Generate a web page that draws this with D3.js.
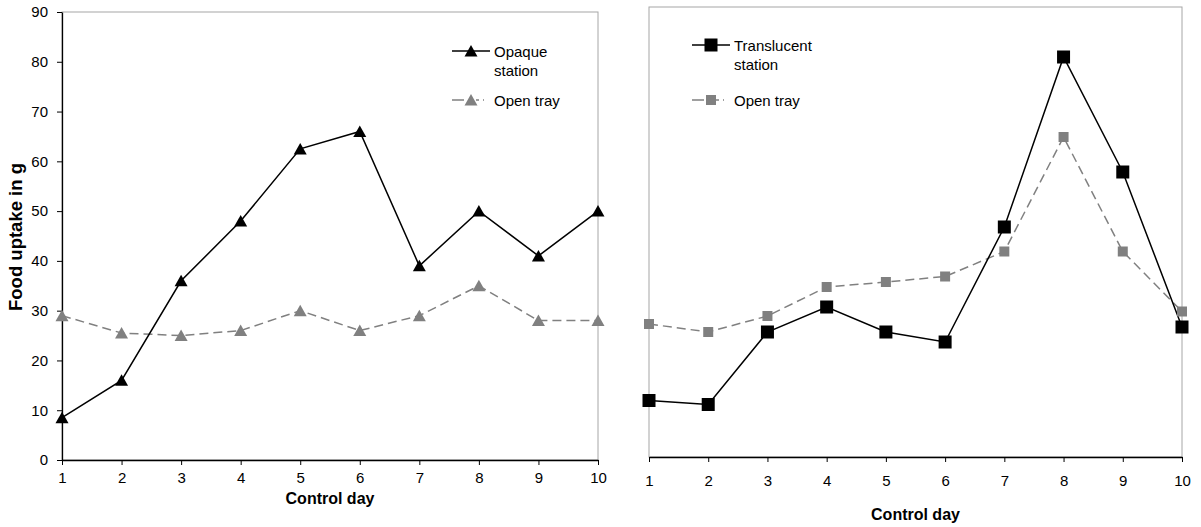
<!DOCTYPE html>
<html>
<head>
<meta charset="utf-8">
<script src="https://cdn.jsdelivr.net/npm/d3@7"></script>
<style>
  html, body { margin: 0; padding: 0; background: #fff; }
  svg { display: block; font-family: "Liberation Sans", Arial, sans-serif; }
</style>
</head>
<body>
<svg id="chart" width="1201" height="527"></svg>
<script>
// ---- data ----
const days = [1, 2, 3, 4, 5, 6, 7, 8, 9, 10];
const yTicks = [0, 10, 20, 30, 40, 50, 60, 70, 80, 90];
const opaqueStation = [8.5, 16, 36, 48, 62.5, 66, 39, 50, 41, 50];
const openTrayLeft = [29, 25.5, 25, 26, 30, 26, 29, 35, 28, 28];
const translucentStation = [11.3, 10.5, 25, 30, 25, 23, 46, 80, 57, 26];
const openTrayRight = [26.6, 25, 28.2, 34, 35, 36.1, 41.1, 64, 41.1, 29.1];
const leftLegend = ["Opaque", "station", "Open tray"];
const rightLegend = ["Translucent", "station", "Open tray"];
const xTitle = "Control day";
const yTitle = "Food uptake in g";

const svg = d3.select("#chart");
const GRAY_LINE = "#808080";
const GRAY_MARK = "#808080";
const BORDER = "#a6a6a6";
const FS = 15;

const triPath = "M0,-6L6.5,5.5L-6.5,5.5Z";

function panel(opts) {
  const x = d3.scaleLinear().domain([1, 10]).range(opts.xr);
  const y = d3.scaleLinear().domain([0, 90]).range(opts.yr);
  const g = svg.append("g");

  // border (top/right/left gray)
  g.append("rect")
    .attr("x", opts.xr[0]).attr("y", opts.yr[1])
    .attr("width", opts.xr[1] - opts.xr[0])
    .attr("height", opts.yr[0] - opts.yr[1])
    .attr("fill", "none").attr("stroke", BORDER).attr("stroke-width", 1);

  // x axis
  const xa = g.append("g")
    .attr("transform", `translate(0,${opts.yr[0]})`)
    .call(d3.axisBottom(x).tickValues(days).tickFormat(d3.format("d"))
      .tickSize(5).tickPadding(opts.xPad).tickSizeOuter(0));
  xa.select(".domain").attr("stroke", "#000").attr("stroke-width", 1.3);
  xa.selectAll(".tick line").attr("stroke", "#000").attr("stroke-width", 1);
  xa.selectAll("text").attr("font-size", FS).attr("fill", "#000")
    .attr("font-family", "Liberation Sans, Arial, sans-serif");

  if (opts.yAxis) {
    const ya = g.append("g")
      .attr("transform", `translate(${opts.xr[0]},0)`)
      .call(d3.axisLeft(y).tickValues(yTicks).tickSize(5).tickPadding(9).tickSizeOuter(0));
    ya.select(".domain").attr("stroke", "#000").attr("stroke-width", 1.3);
    ya.selectAll(".tick line").attr("stroke", "#000").attr("stroke-width", 1);
    ya.selectAll("text").attr("font-size", FS).attr("fill", "#000")
      .attr("font-family", "Liberation Sans, Arial, sans-serif");
  }

  // x title
  g.append("text")
    .attr("x", (opts.xr[0] + opts.xr[1]) / 2).attr("y", opts.xTitleY)
    .attr("text-anchor", "middle").attr("font-weight", "bold")
    .attr("font-size", 16).text(xTitle);

  const line = d3.line().x((d, i) => x(days[i])).y(d => y(d));

  // gray dashed series
  g.append("path").datum(opts.gray)
    .attr("d", line).attr("fill", "none")
    .attr("stroke", GRAY_LINE).attr("stroke-width", 1.5)
    .attr("stroke-dasharray", "9,5");
  // black series
  g.append("path").datum(opts.black)
    .attr("d", line).attr("fill", "none")
    .attr("stroke", "#000").attr("stroke-width", 1.5);

  function marker(sel, color, kind, size) {
    if (kind === "tri") {
      sel.append("path").attr("d", triPath).attr("fill", color);
    } else {
      sel.append("rect").attr("x", -size / 2).attr("y", -size / 2)
        .attr("width", size).attr("height", size).attr("fill", color);
    }
  }

  g.selectAll(".gm").data(opts.gray).enter().append("g")
    .attr("transform", (d, i) => `translate(${x(days[i])},${y(d)})`)
    .each(function () { marker(d3.select(this), GRAY_MARK, opts.kind, 10); });
  g.selectAll(".bm").data(opts.black).enter().append("g")
    .attr("transform", (d, i) => `translate(${x(days[i])},${y(d)})`)
    .each(function () { marker(d3.select(this), "#000", opts.kind, 13); });

  // legend
  const L = opts.legend;
  const lg = g.append("g");
  lg.append("line").attr("x1", L.x).attr("x2", L.x + 38)
    .attr("y1", L.y1).attr("y2", L.y1).attr("stroke", "#000").attr("stroke-width", 1.5);
  const m1 = lg.append("g").attr("transform", `translate(${L.x + 19},${L.y1})`);
  marker(m1, "#000", opts.kind, 13);
  lg.append("text").attr("x", L.x + 42).attr("y", L.y1 + 5.5)
    .attr("font-size", FS).text(opts.labels[0]);
  lg.append("text").attr("x", L.x + 42).attr("y", L.y1 + 25)
    .attr("font-size", FS).text(opts.labels[1]);
  lg.append("line").attr("x1", L.x).attr("x2", L.x + 42)
    .attr("y1", L.y2).attr("y2", L.y2).attr("stroke", GRAY_LINE).attr("stroke-width", 1.5)
    .attr("stroke-dasharray", "12,12,3,4,1,10");
  const m2 = lg.append("g").attr("transform", `translate(${L.x + 19},${L.y2})`);
  marker(m2, GRAY_MARK, opts.kind, 10);
  lg.append("text").attr("x", L.x + 42).attr("y", L.y2 + 5.5)
    .attr("font-size", FS).text(opts.labels[2]);
}

panel({
  xr: [62, 598], yr: [460, 12], yAxis: true, xPad: 7, xTitleY: 504,
  black: opaqueStation, gray: openTrayLeft, kind: "tri",
  legend: { x: 452, y1: 51, y2: 100 }, labels: leftLegend
});
panel({
  xr: [649, 1182], yr: [457, 7], yAxis: false, xPad: 13, xTitleY: 520,
  black: translucentStation, gray: openTrayRight, kind: "sq",
  legend: { x: 692, y1: 45, y2: 100 }, labels: rightLegend
});

// y title
svg.append("text")
  .attr("transform", "translate(22,237) rotate(-90)")
  .attr("text-anchor", "middle").attr("font-weight", "bold")
  .attr("font-size", 18.5).text(yTitle);
</script>
</body>
</html>
